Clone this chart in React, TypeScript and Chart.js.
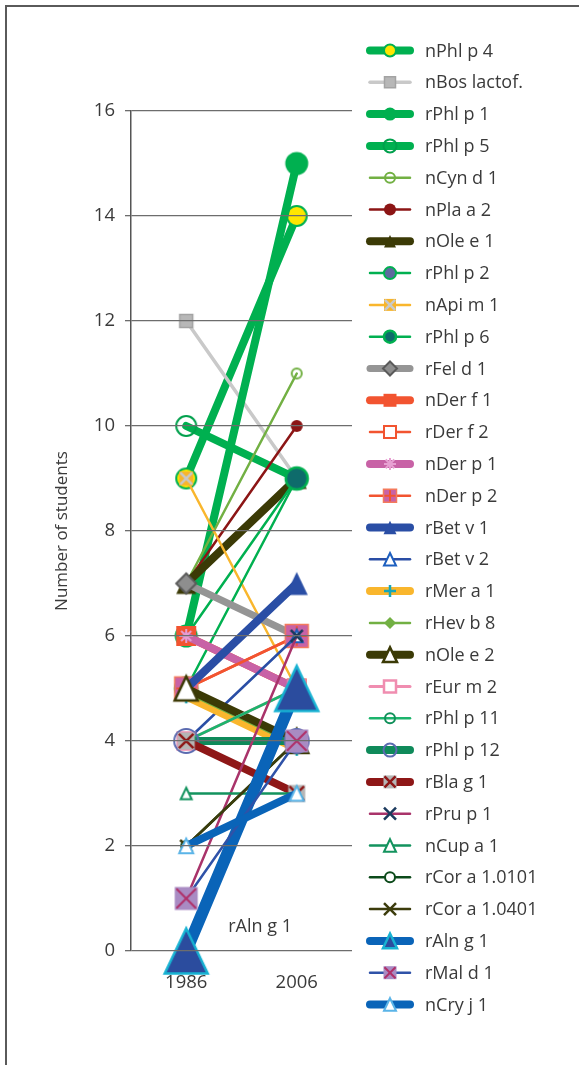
import React, { useEffect, useRef } from 'react';
import { Chart, registerables } from 'chart.js';

Chart.register(...registerables);

const years = ['1986', '2006'];

const allergenNames = [
  'nPhl p 4', 'nBos lactof.', 'rPhl p 1', 'rPhl p 5', 'nCyn d 1', 'nPla a 2', 'nOle e 1', 'rPhl p 2',
  'nApi m 1', 'rPhl p 6', 'rFel d 1', 'nDer f 1', 'rDer f 2', 'nDer p 1', 'nDer p 2', 'rBet v 1',
  'rBet v 2', 'rMer a 1', 'rHev b 8', 'nOle e 2', 'rEur m 2', 'rPhl p 11', 'rPhl p 12', 'rBla g 1',
  'rPru p 1', 'nCup a 1', 'rCor a 1.0101', 'rCor a 1.0401', 'rAln g 1', 'rMal d 1', 'nCry j 1',
];

const students1986 = [9, 12, 6, 10, 7, 7, 7, 6, 9, 5, 7, 6, 5, 6, 5, 5, 4, 4.85, 4.92, 5, 4, 4, 4, 4, 1, 3, 2, 2, 0, 1, 2];
const students2006 = [14, 9, 15, 9, 11, 10, 9, 9, 5, 9, 6, 5, 6, 5, 6, 7, 6, 3.85, 3.92, 4, 5, 5, 4, 3, 6, 3, 4, 4, 5, 4, 3];

const yMin = 0;
const yMax = 16;
const yStep = 2;
const axisTitle = 'Number of students';
const labelledSeries = 'rAln g 1';

const FONT = "'Open Sans', 'Noto Sans', sans-serif";
const TEXT = '#3a3a3a';

const lineColors = [
  '#00b050', '#c9c9c9', '#00b050', '#00b050', '#72b043', '#8c1515', '#3b3a06', '#00b050',
  '#f9b62d', '#00b050', '#959595', '#f25430', '#f25430', '#c862a6', '#f25430', '#2a4ea5',
  '#2a4ea5', '#f9b62d', '#72b043', '#3b3a06', '#f08db0', '#1cb46c', '#0f8a5a', '#8e1717',
  '#a9336a', '#13935e', '#0c4a1a', '#3c3c0c', '#0a64b8', '#2f52a8', '#0a64b8',
];
const lineWidths = [
  8, 3.5, 8, 8, 2.5, 2.5, 8, 2.5, 2.5, 2.5, 7, 8, 2.5, 8, 2.5, 8,
  2.5, 8, 2.5, 8, 3, 2.5, 8, 8, 2.5, 2.5, 2.5, 2.5, 12, 2.5, 8,
];

type Mk = {
  shape: string; size: number; legend: number; fill?: string; stroke?: string; bw?: number;
  inner?: string; innerColor?: string; innerWidth?: number;
};

const markerSpecs: Mk[] = [
  { shape: 'circle', size: 10, legend: 6, fill: '#ffe600', stroke: '#00b050', bw: 2 },
  { shape: 'rect', size: 6.5, legend: 5.5, fill: '#b7b7b7', stroke: '#a3a3a3', bw: 1.5 },
  { shape: 'circle', size: 11.5, legend: 6.5, fill: '#00b050' },
  { shape: 'circle', size: 10, legend: 6.5, stroke: '#00a04c', bw: 2 },
  { shape: 'circle', size: 5, legend: 5, stroke: '#72b043', bw: 2 },
  { shape: 'circle', size: 6, legend: 6, fill: '#8c1515' },
  { shape: 'triangle', size: 10, legend: 6, fill: '#3b3a06' },
  { shape: 'circle', size: 8, legend: 6, fill: '#5d6a9e', stroke: '#00b050', bw: 2 },
  { shape: 'rect', size: 7, legend: 6, fill: '#f7b52c', inner: 'x', innerColor: '#c9c9c9', innerWidth: 2.5 },
  { shape: 'circle', size: 11, legend: 6, fill: '#0e6b6b', stroke: '#00b050', bw: 2.5 },
  { shape: 'rectRot', size: 10, legend: 7, fill: '#8e8e8e', stroke: '#5a5a5a', bw: 2 },
  { shape: 'rect', size: 10, legend: 6.5, fill: '#f25430' },
  { shape: 'rect', size: 7, legend: 6, fill: '#ffffff', stroke: '#f25430', bw: 2 },
  { shape: 'star', size: 7, legend: 6, stroke: '#e7a0d2', bw: 2 },
  { shape: 'rect', size: 11.5, legend: 6.5, fill: '#c862a6', stroke: '#f47a5c', bw: 1.5, inner: 'plus', innerColor: '#f25430', innerWidth: 2 },
  { shape: 'triangle', size: 11, legend: 6.5, fill: '#2a4ea5' },
  { shape: 'triangle', size: 6, legend: 6, fill: '#ffffff', stroke: '#1d5fbf', bw: 2 },
  { shape: 'cross', size: 7, legend: 6, stroke: '#17a7b8', bw: 2.5 },
  { shape: 'rectRot', size: 7, legend: 6, fill: '#72b043' },
  { shape: 'triangle', size: 11.5, legend: 7, fill: '#ffffff', stroke: '#3b3a06', bw: 2.5 },
  { shape: 'rect', size: 8.5, legend: 6, fill: '#ffffff', stroke: '#f08db0', bw: 2.5 },
  { shape: 'circle', size: 5, legend: 5, stroke: '#10905a', bw: 2 },
  { shape: 'circle', size: 12, legend: 6.5, stroke: '#5b6bb0', bw: 2 },
  { shape: 'rect', size: 8.5, legend: 6.5, fill: '#b5b5b5', inner: 'x', innerColor: '#8e1717', innerWidth: 2.5 },
  { shape: 'crossRot', size: 6, legend: 6, stroke: '#1c3a5e', bw: 2.5 },
  { shape: 'triangle', size: 5.5, legend: 6, fill: '#ffffff', stroke: '#13935e', bw: 2 },
  { shape: 'circle', size: 5, legend: 5, fill: '#ffffff', stroke: '#0c4a1a', bw: 2 },
  { shape: 'crossRot', size: 6, legend: 6, stroke: '#3c3c0c', bw: 2.5 },
  { shape: 'triangle', size: 21.5, legend: 7, fill: '#2b4c9e', stroke: '#17b2d2', bw: 2.5 },
  { shape: 'rect', size: 11.5, legend: 6.5, fill: '#a98bc3', inner: 'x', innerColor: '#b0306a', innerWidth: 2 },
  { shape: 'triangle', size: 7, legend: 6, fill: '#ffffff', stroke: '#5ab4e8', bw: 2 },
];

function strokeLines(ctx: CanvasRenderingContext2D, kind: string, cx: number, cy: number, r: number, color: string, w: number) {
  ctx.beginPath();
  if (kind === 'plus' || kind === 'star') {
    ctx.moveTo(cx - r, cy); ctx.lineTo(cx + r, cy);
    ctx.moveTo(cx, cy - r); ctx.lineTo(cx, cy + r);
  }
  if (kind === 'x' || kind === 'star') {
    const d = kind === 'star' ? r * 0.72 : r;
    ctx.moveTo(cx - d, cy - d); ctx.lineTo(cx + d, cy + d);
    ctx.moveTo(cx - d, cy + d); ctx.lineTo(cx + d, cy - d);
  }
  ctx.strokeStyle = color;
  ctx.lineWidth = w;
  ctx.lineCap = 'butt';
  ctx.stroke();
}

function drawMarker(ctx: CanvasRenderingContext2D, m: Mk, cx: number, cy: number, s: number) {
  ctx.save();
  ctx.lineJoin = 'miter';
  const solid = ['circle', 'rect', 'rectRot', 'triangle'].includes(m.shape);
  if (solid) {
    ctx.beginPath();
    if (m.shape === 'circle') ctx.arc(cx, cy, s, 0, Math.PI * 2);
    else if (m.shape === 'rect') ctx.rect(cx - s, cy - s, 2 * s, 2 * s);
    else if (m.shape === 'rectRot') {
      ctx.moveTo(cx, cy - s); ctx.lineTo(cx + s, cy); ctx.lineTo(cx, cy + s); ctx.lineTo(cx - s, cy); ctx.closePath();
    } else {
      const h = s * 1.05;
      ctx.moveTo(cx, cy - h); ctx.lineTo(cx + s, cy + h); ctx.lineTo(cx - s, cy + h); ctx.closePath();
    }
    if (m.fill) { ctx.fillStyle = m.fill; ctx.fill(); }
    if (m.stroke && m.bw) { ctx.strokeStyle = m.stroke; ctx.lineWidth = m.bw; ctx.stroke(); }
  } else if (m.shape === 'cross') {
    strokeLines(ctx, 'plus', cx, cy, s, m.stroke || '#000', m.bw || 2);
  } else if (m.shape === 'crossRot') {
    strokeLines(ctx, 'x', cx, cy, s, m.stroke || '#000', m.bw || 2);
  } else if (m.shape === 'star') {
    strokeLines(ctx, 'star', cx, cy, s, m.stroke || '#000', m.bw || 2);
  }
  if (m.inner) strokeLines(ctx, m.inner, cx, cy, s * 0.85, m.innerColor || '#000', m.innerWidth || 2);
  ctx.restore();
}

function makeMarkerCanvas(m: Mk): HTMLCanvasElement {
  const half = Math.ceil(m.size * 1.1 + (m.bw || 0) + 3);
  const c = document.createElement('canvas');
  c.width = half * 2;
  c.height = half * 2;
  const ctx = c.getContext('2d');
  if (ctx) drawMarker(ctx, m, half, half, m.size);
  return c;
}

const legendPlugin = {
  id: 'sideLegend',
  afterDraw(chart: any) {
    const { ctx, chartArea } = chart;
    const x0 = chartArea.right + 18;
    const x1 = x0 + 40;
    const xm = (x0 + x1) / 2;
    const xt = x1 + 15;
    const top = 50.5;
    const step = 31.8;
    ctx.save();
    chart.data.datasets.forEach((ds: any, i: number) => {
      const y = top + i * step;
      ctx.beginPath();
      ctx.moveTo(x0, y);
      ctx.lineTo(x1, y);
      ctx.strokeStyle = lineColors[i];
      ctx.lineWidth = Math.min(lineWidths[i], 8);
      ctx.lineCap = 'round';
      ctx.stroke();
      drawMarker(ctx, markerSpecs[i], xm, y, markerSpecs[i].legend);
      ctx.fillStyle = TEXT;
      ctx.font = `18px ${FONT}`;
      ctx.textAlign = 'left';
      ctx.textBaseline = 'middle';
      ctx.fillText(ds.label, xt, y + 1);
    });
    ctx.restore();
  },
};

const dataLabelPlugin = {
  id: 'seriesLabel',
  afterDatasetsDraw(chart: any) {
    const idx = allergenNames.indexOf(labelledSeries);
    if (idx < 0) return;
    const { ctx, scales } = chart;
    const x = scales.x.getPixelForValue(0) + 42;
    const y = scales.y.getPixelForValue(students1986[idx]) - 24;
    ctx.save();
    ctx.fillStyle = TEXT;
    ctx.font = `18px ${FONT}`;
    ctx.textAlign = 'left';
    ctx.textBaseline = 'middle';
    ctx.fillText(labelledSeries, x, y);
    ctx.restore();
  },
};

export default function App() {
  const ref = useRef<HTMLCanvasElement>(null);

  useEffect(() => {
    document.body.style.margin = '0';
    const canvas = ref.current;
    if (!canvas) return;
    const n = allergenNames.length;
    const datasets = allergenNames.map((name, i) => ({
      label: name,
      data: [students1986[i], students2006[i]],
      borderColor: lineColors[i],
      backgroundColor: lineColors[i],
      borderWidth: lineWidths[i],
      borderCapStyle: 'round',
      borderJoinStyle: 'round',
      pointStyle: makeMarkerCanvas(markerSpecs[i]),
      pointRadius: markerSpecs[i].size,
      pointHoverRadius: markerSpecs[i].size,
      fill: false,
      tension: 0,
      clip: false,
      order: n - i,
    }));

    const chart = new Chart(canvas, {
      type: 'line',
      data: { labels: years, datasets: datasets as any },
      options: {
        responsive: false,
        animation: false,
        events: [],
        layout: { padding: { left: 0, top: 111, right: 227, bottom: 54 } },
        plugins: { legend: { display: false }, tooltip: { enabled: false } },
        scales: {
          x: {
            type: 'category',
            offset: true,
            grid: { display: false, drawTicks: false },
            border: { display: false },
            ticks: { color: TEXT, font: { family: FONT, size: 18.5 }, padding: 21 },
            afterFit: (s: any) => { s.height = 60; },
          },
          y: {
            min: yMin,
            max: yMax,
            ticks: { stepSize: yStep, color: TEXT, font: { family: FONT, size: 18.5 }, padding: 10 },
            grid: { color: '#6d6d6d', lineWidth: 1.3, tickLength: 6, drawTicks: true, z: 1 },
            border: { display: true, color: '#555555', width: 1.5, z: 1 },
            title: {
              display: true,
              text: axisTitle,
              color: TEXT,
              font: { family: FONT, size: 17 },
              padding: { top: 52, bottom: 0 },
            },
            afterFit: (s: any) => { s.width = 131; },
          },
        },
      } as any,
      plugins: [legendPlugin, dataLabelPlugin],
    });
    return () => chart.destroy();
  }, []);

  return (
    <div style={{ position: 'absolute', left: 0, top: 0, width: 579, height: 1065, overflow: 'hidden', background: '#ffffff' }}>
      <div
        style={{
          position: 'absolute', left: 5, top: 5, width: 640, height: 1120,
          borderLeft: '2px solid #5a5a5a', borderTop: '2px solid #5a5a5a',
        }}
      />
      <canvas ref={ref} width={579} height={1065} style={{ position: 'absolute', left: 0, top: 0, width: 579, height: 1065 }} />
    </div>
  );
}
